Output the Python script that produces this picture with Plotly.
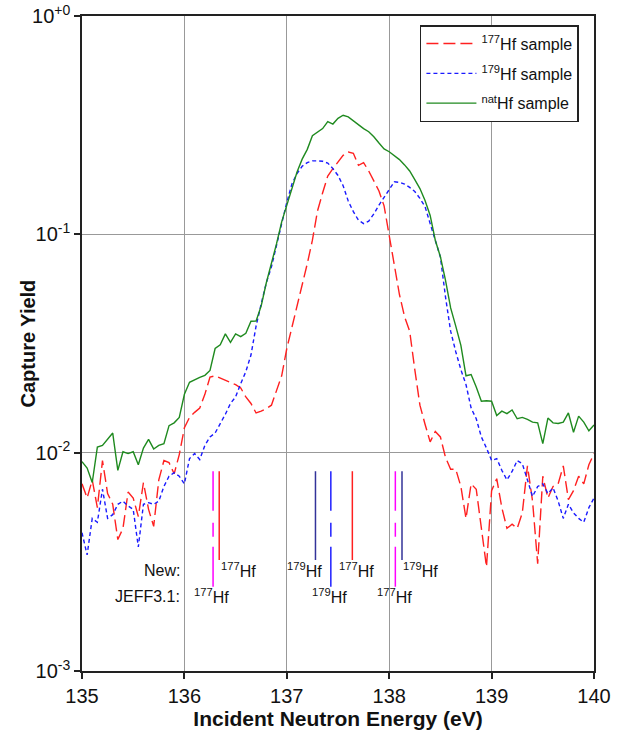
import plotly.graph_objects as go

# ---------------- data ----------------
energy = [round(135 + 0.05 * i, 2) for i in range(101)]

hf177 = [0.0072, 0.0062, 0.0075, 0.0056, 0.0092, 0.0065, 0.0058, 0.0040, 0.0045, 0.0066,
         0.0062, 0.0051, 0.0073, 0.0055, 0.0046, 0.0075, 0.0092, 0.0090, 0.0080, 0.0098,
         0.0130, 0.0145, 0.0153, 0.0160, 0.0185, 0.0222, 0.0225, 0.0220, 0.0216, 0.0210,
         0.0205, 0.0198, 0.0180, 0.0168, 0.0152, 0.0155, 0.0159, 0.0165, 0.0195, 0.0225,
         0.0300, 0.0376, 0.0465, 0.0574, 0.0734, 0.094, 0.128, 0.155, 0.185, 0.200,
         0.215, 0.230, 0.238, 0.235, 0.207, 0.213, 0.195, 0.175, 0.158, 0.135,
         0.100, 0.072, 0.053, 0.042, 0.036, 0.024, 0.0165, 0.0135, 0.0112, 0.0125,
         0.0118, 0.0095, 0.0084, 0.0084, 0.0070, 0.0050, 0.0072, 0.0068, 0.0045, 0.0030,
         0.0067, 0.0076, 0.0056, 0.0045, 0.0047, 0.0045, 0.0053, 0.0087, 0.0060, 0.0031,
         0.0078, 0.0062, 0.0070, 0.0072, 0.0087, 0.0061, 0.0067, 0.0078, 0.0072, 0.0088,
         0.0099]

hf179 = [0.0043, 0.0034, 0.0050, 0.0048, 0.0068, 0.0050, 0.0052, 0.0058, 0.0060, 0.0057,
         0.0055, 0.0037, 0.0058, 0.0059, 0.0058, 0.0060, 0.0070, 0.0078, 0.0081, 0.0078,
         0.0072, 0.0094, 0.0099, 0.0093, 0.0108, 0.0118, 0.0123, 0.0135, 0.0150, 0.0168,
         0.0180, 0.0207, 0.0235, 0.0280, 0.0380, 0.0480, 0.0600, 0.0710, 0.0906, 0.112,
         0.140, 0.170, 0.190, 0.205, 0.213, 0.217, 0.217, 0.216, 0.212, 0.200,
         0.186, 0.167, 0.142, 0.127, 0.116, 0.112, 0.115, 0.124, 0.136, 0.148,
         0.162, 0.174, 0.173, 0.170, 0.164, 0.157, 0.146, 0.134, 0.112, 0.094,
         0.0787, 0.0516, 0.0360, 0.0290, 0.0240, 0.0205, 0.0160, 0.0143, 0.0118, 0.0105,
         0.0092, 0.0094, 0.0083, 0.0075, 0.0082, 0.0092, 0.0089, 0.0075, 0.0063, 0.0070,
         0.0072, 0.0065, 0.0069, 0.0060, 0.0050, 0.0058, 0.0053, 0.0050, 0.0048, 0.0056,
         0.0062]

hfnat = [0.0091, 0.0085, 0.0073, 0.0106, 0.0108, 0.0115, 0.0123, 0.0083, 0.0101, 0.0099,
         0.0101, 0.0088, 0.0105, 0.0115, 0.0104, 0.0108, 0.0110, 0.0133, 0.0137, 0.0145,
         0.0185, 0.0210, 0.0216, 0.0221, 0.0226, 0.0238, 0.0300, 0.0312, 0.0350, 0.0320,
         0.0350, 0.0340, 0.0352, 0.0400, 0.0401, 0.0470, 0.0600, 0.0734, 0.0906, 0.114,
         0.137, 0.163, 0.193, 0.221, 0.245, 0.283, 0.295, 0.305, 0.328, 0.320,
         0.340, 0.351, 0.345, 0.330, 0.316, 0.305, 0.295, 0.280, 0.262, 0.246,
         0.239, 0.230, 0.220, 0.208, 0.195, 0.178, 0.162, 0.143, 0.122, 0.094,
         0.079, 0.0615, 0.046, 0.038, 0.031, 0.0225, 0.0228, 0.0200, 0.0172, 0.0173,
         0.0172, 0.0148, 0.0155, 0.0151, 0.0157, 0.0143, 0.0145, 0.0142, 0.0138, 0.0137,
         0.0110, 0.0144, 0.0137, 0.0136, 0.0138, 0.0152, 0.0124, 0.0147, 0.0138, 0.0126,
         0.0134]

series_names = ["<sup>177</sup>Hf sample", "<sup>179</sup>Hf sample", "<sup>nat</sup>Hf sample"]

# resonance energies (eV)
new_energies = [136.34, 137.28, 137.64, 138.125]
new_isotopes = ["177", "179", "177", "179"]
jeff_energies = [136.28, 137.43, 138.06]
jeff_isotopes = ["177", "179", "177"]

y_tickvals = [0.001, 0.01, 0.1, 1]
y_ticktext = ["10<sup>-3</sup>", "10<sup>-2</sup>", "10<sup>-1</sup>", "10<sup>+0</sup>"]
x_tickvals = [135, 136, 137, 138, 139, 140]

# ---------------- styles ----------------
FONT = "Liberation Sans, Arial, sans-serif"
iso_color_new = {"177": "#ff2020", "179": "#333399"}
iso_color_jeff = {"177": "#ff00ff", "179": "#2020ff"}
new_label_shift = [19, -11, 4, 18]
jeff_label_shift = [-2, -1, -1]

fig = go.Figure()
fig.add_trace(go.Scatter(x=energy, y=hf177, name=series_names[0], mode="lines",
                         legendgroup="a",
                         line=dict(color="#ff2020", width=1.4, dash="12px,5px")))
fig.add_trace(go.Scatter(x=energy, y=hf179, name=series_names[1], mode="lines",
                         legendgroup="b",
                         line=dict(color="#1a1aff", width=1.4, dash="4px,3px")))
fig.add_trace(go.Scatter(x=energy, y=hfnat, name=series_names[2], mode="lines",
                         legendgroup="c",
                         line=dict(color="#1f8a1f", width=1.4)))

shapes = []
# white label box that hides the grid behind the resonance labels
shapes.append(dict(type="rect", xref="x", yref="paper", x0=135.27, x1=138.6,
                   y0=0.081, y1=0.189, fillcolor="white", line=dict(width=0),
                   layer="between"))
for e, iso in zip(new_energies, new_isotopes):
    shapes.append(dict(type="line", xref="x", yref="paper", x0=e, x1=e,
                       y0=0.1695, y1=0.305,
                       line=dict(color=iso_color_new[iso], width=1.5)))
for e, iso in zip(jeff_energies, jeff_isotopes):
    shapes.append(dict(type="line", xref="x", yref="paper", x0=e, x1=e,
                       y0=0.1287, y1=0.305,
                       line=dict(color=iso_color_jeff[iso], width=1.5,
                                 dash="40px,10px,14px,12px,80px")))

annotations = []
lab_font = dict(family=FONT, size=16, color="#111111")
annotations.append(dict(text="New:", xref="paper", yref="paper", x=0.195, y=0.154,
                        xanchor="right", yanchor="middle", showarrow=False, font=lab_font))
annotations.append(dict(text="JEFF3.1:", xref="paper", yref="paper", x=0.195, y=0.1145,
                        xanchor="right", yanchor="middle", showarrow=False, font=lab_font))
for e, iso, s in zip(new_energies, new_isotopes, new_label_shift):
    annotations.append(dict(text=f"<sup>{iso}</sup>Hf", xref="x", yref="paper", x=e,
                            y=0.154, xanchor="center", yanchor="middle", xshift=s,
                            showarrow=False, font=lab_font))
for e, iso, s in zip(jeff_energies, jeff_isotopes, jeff_label_shift):
    annotations.append(dict(text=f"<sup>{iso}</sup>Hf", xref="x", yref="paper", x=e,
                            y=0.1145, xanchor="center", yanchor="middle", xshift=s,
                            showarrow=False, font=lab_font))
# y-axis title
annotations.append(dict(text="<b>Capture Yield</b>", xref="paper", yref="paper",
                        x=-0.1055, y=0.5, xanchor="center", yanchor="middle",
                        textangle=-90, showarrow=False,
                        font=dict(family=FONT, size=20, color="#111111")))

fig.update_layout(
    width=619, height=736,
    margin=dict(l=82, r=25, t=16, b=65, autoexpand=False),
    paper_bgcolor="white", plot_bgcolor="white",
    font=dict(family=FONT, color="#111111"),
    shapes=shapes, annotations=annotations,
    legend=dict(x=0.66, y=0.986, xanchor="left", yanchor="top",
                bgcolor="white", bordercolor="#222222", borderwidth=1.5,
                font=dict(family=FONT, size=16, color="#111111"),
                tracegroupgap=6, itemwidth=50),
    showlegend=True,
)
fig.update_xaxes(
    range=[135, 140], tickvals=x_tickvals, ticks="outside", ticklen=6,
    tickcolor="#222222", tickwidth=1.5, automargin=False, ticklabeloverflow="allow",
    showline=True, linecolor="#222222", linewidth=1.5, mirror=True,
    showgrid=True, gridcolor="#999999", gridwidth=1.2, zeroline=False,
    tickfont=dict(family=FONT, size=20, color="#111111"),
    title=dict(text="<b>Incident Neutron Energy (eV)</b>",
               font=dict(family=FONT, size=21, color="#111111"), standoff=0),
)
fig.update_yaxes(
    type="log", range=[-3, 0], tickvals=y_tickvals, ticktext=y_ticktext,
    ticks="outside", ticklen=6, tickcolor="#222222", tickwidth=1.5, automargin=False,
    ticklabeloverflow="allow",
    showline=True, linecolor="#222222", linewidth=1.5, mirror=True,
    showgrid=True, gridcolor="#999999", gridwidth=1.2, zeroline=False,
    tickfont=dict(family=FONT, size=20, color="#111111"),
)

# remove the browser's default 8px body margin so the figure fills the window
fig.write_html("out.html", config={"displayModeBar": False},
               post_script="document.body.style.margin='0';")
